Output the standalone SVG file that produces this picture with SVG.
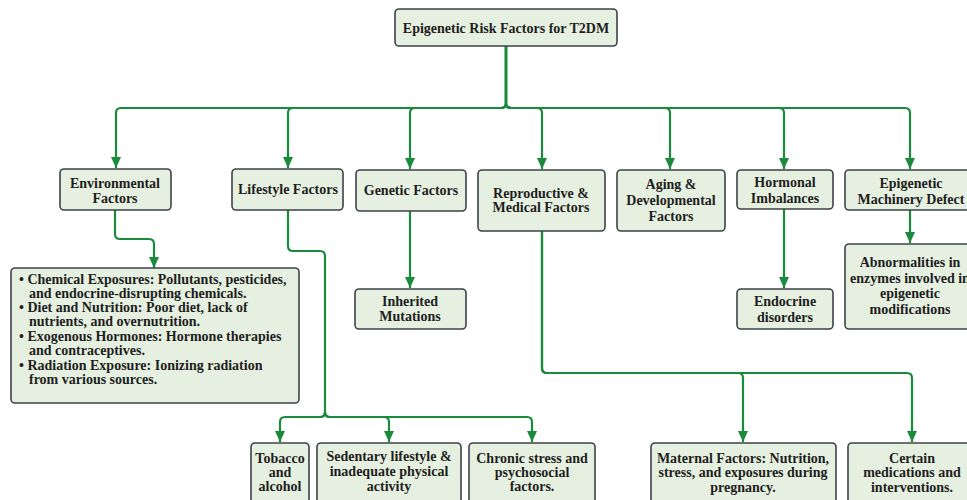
<svg xmlns="http://www.w3.org/2000/svg" width="967" height="500" viewBox="0 0 967 500">
<style>
.box{fill:#e6f0e0;stroke:#3d4247;stroke-width:1.6}
.t{font-family:"Liberation Serif","Times New Roman",serif;font-weight:bold;font-size:14px;fill:#1e1e1e;text-anchor:middle}
.l{font-family:"Liberation Serif","Times New Roman",serif;font-weight:bold;font-size:14px;fill:#1e1e1e}
.c{fill:none;stroke:#1a8a3c;stroke-width:2.2;marker-end:url(#ah)}
.n{fill:none;stroke:#1a8a3c;stroke-width:2.2}
</style>
<defs>
<marker id="ah" markerUnits="userSpaceOnUse" markerWidth="10" markerHeight="11" refX="5" refY="11" orient="0" viewBox="0 0 10 11">
<path d="M0,0 L10,0 L5,11 z" fill="#1a8a3c"/>
</marker>
</defs>
<rect width="967" height="500" fill="#ffffff"/>
<g id="connectors">
<path class="c" d="M506,46 V103 Q506,108 501,108 H121 Q116,108 116,113 V168"/>
<path class="c" d="M506,46 V103 Q506,108 501,108 H293 Q288,108 288,113 V168"/>
<path class="c" d="M506,46 V103 Q506,108 501,108 H415 Q410,108 410,113 V169"/>
<path class="c" d="M506,46 V103 Q506,108 511,108 H537 Q542,108 542,113 V169"/>
<path class="c" d="M506,46 V103 Q506,108 511,108 H665 Q670,108 670,113 V169"/>
<path class="c" d="M506,46 V103 Q506,108 511,108 H779 Q784,108 784,113 V169"/>
<path class="c" d="M506,46 V103 Q506,108 511,108 H905 Q910,108 910,113 V169"/>
<path class="c" d="M115,210 V234 Q115,239 120,239 H149 Q154,239 154,244 V268"/>
<path class="n" d="M288,210 V246 Q288,251 293,251 H320 Q325,251 325,256 V412 Q325,417 320,417"/>
<path class="c" d="M325,412 Q325,417 320,417 H285 Q280,417 280,422 V442"/>
<path class="c" d="M325,412 Q325,417 330,417 H384 Q389,417 389,422 V442"/>
<path class="c" d="M325,412 Q325,417 330,417 H527 Q532,417 532,422 V442"/>
<path class="c" d="M410,211 V288"/>
<path class="c" d="M784,209 V288"/>
<path class="c" d="M910,210 V243"/>
<path class="c" d="M542,231 V368 Q542,373 547,373 H738 Q743,373 743,378 V442"/>
<path class="c" d="M542,231 V368 Q542,373 547,373 H907 Q912,373 912,378 V442"/>
</g>
<g id="root">
<rect class="box" x="395" y="9" width="222" height="37" rx="4"/>
<text class="t" x="506" y="33">Epigenetic Risk Factors for T2DM</text>
</g>
<g id="environmental">
<rect class="box" x="60" y="169" width="111" height="41" rx="4"/>
<text class="t" x="115" y="188">Environmental</text>
<text class="t" x="115" y="203">Factors</text>
</g>
<g id="lifestyle">
<rect class="box" x="232" y="169" width="111" height="41" rx="4"/>
<text class="t" x="288" y="194">Lifestyle Factors</text>
</g>
<g id="genetic">
<rect class="box" x="356" y="170" width="110" height="41" rx="4"/>
<text class="t" x="411" y="195">Genetic Factors</text>
</g>
<g id="reproductive">
<rect class="box" x="478" y="170" width="127" height="61" rx="4"/>
<text class="t" x="541" y="198">Reproductive &amp;</text>
<text class="t" x="541" y="212">Medical Factors</text>
</g>
<g id="aging">
<rect class="box" x="617" y="170" width="108" height="61" rx="4"/>
<text class="t" x="671" y="189">Aging &amp;</text>
<text class="t" x="671" y="205">Developmental</text>
<text class="t" x="671" y="221">Factors</text>
</g>
<g id="hormonal">
<rect class="box" x="737" y="170" width="96" height="39" rx="4"/>
<text class="t" x="785" y="187">Hormonal</text>
<text class="t" x="785" y="203">Imbalances</text>
</g>
<g id="epigenetic">
<rect class="box" x="845" y="170" width="132" height="40" rx="4"/>
<text class="t" x="911" y="188">Epigenetic</text>
<text class="t" x="911" y="204">Machinery Defect</text>
</g>
<g id="env-list">
<rect class="box" x="11" y="268" width="288" height="135" rx="4"/>
<text class="l" x="19" y="284">• Chemical Exposures: Pollutants, pesticides,</text>
<text class="l" x="29" y="298">and endocrine-disrupting chemicals.</text>
<text class="l" x="19" y="312">• Diet and Nutrition: Poor diet, lack of</text>
<text class="l" x="29" y="326">nutrients, and overnutrition.</text>
<text class="l" x="19" y="341">• Exogenous Hormones: Hormone therapies</text>
<text class="l" x="29" y="355">and contraceptives.</text>
<text class="l" x="19" y="370">• Radiation Exposure: Ionizing radiation</text>
<text class="l" x="29" y="384">from various sources.</text>
</g>
<g id="inherited">
<rect class="box" x="355" y="289" width="111" height="40" rx="4"/>
<text class="t" x="410" y="306">Inherited</text>
<text class="t" x="410" y="321">Mutations</text>
</g>
<g id="endocrine">
<rect class="box" x="737" y="289" width="96" height="40" rx="4"/>
<text class="t" x="785" y="306">Endocrine</text>
<text class="t" x="785" y="322">disorders</text>
</g>
<g id="abnormalities">
<rect class="box" x="845" y="244" width="132" height="85" rx="4"/>
<text class="t" x="910" y="267">Abnormalities in</text>
<text class="t" x="910" y="283">enzymes involved in</text>
<text class="t" x="910" y="298">epigenetic</text>
<text class="t" x="910" y="314">modifications</text>
</g>
<g id="tobacco">
<rect class="box" x="251" y="443" width="58" height="70" rx="4"/>
<text class="t" x="280" y="463">Tobacco</text>
<text class="t" x="280" y="477">and</text>
<text class="t" x="280" y="491">alcohol</text>
</g>
<g id="sedentary">
<rect class="box" x="317" y="443" width="144" height="70" rx="4"/>
<text class="t" x="389" y="461">Sedentary lifestyle &amp;</text>
<text class="t" x="389" y="476">inadequate physical</text>
<text class="t" x="389" y="491">activity</text>
</g>
<g id="chronic">
<rect class="box" x="469" y="443" width="126" height="70" rx="4"/>
<text class="t" x="532" y="463">Chronic stress and</text>
<text class="t" x="532" y="477">psychosocial</text>
<text class="t" x="532" y="491">factors.</text>
</g>
<g id="maternal">
<rect class="box" x="651" y="443" width="185" height="70" rx="4"/>
<text class="t" x="743" y="463">Maternal Factors: Nutrition,</text>
<text class="t" x="743" y="477">stress, and exposures during</text>
<text class="t" x="743" y="492">pregnancy.</text>
</g>
<g id="medications">
<rect class="box" x="848" y="443" width="129" height="70" rx="4"/>
<text class="t" x="912" y="463">Certain</text>
<text class="t" x="912" y="477">medications and</text>
<text class="t" x="912" y="492">interventions.</text>
</g>
</svg>
